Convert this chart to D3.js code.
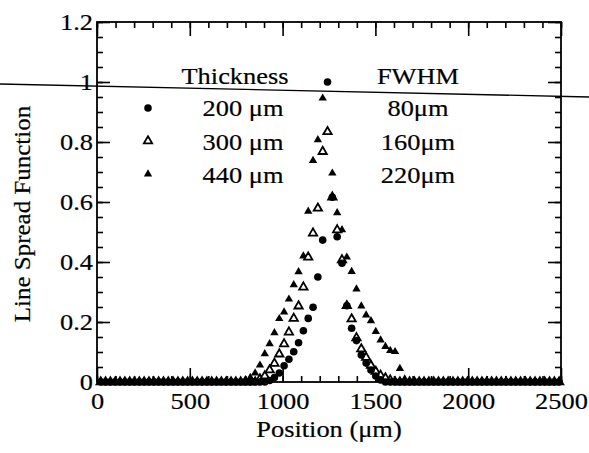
<!DOCTYPE html>
<html><head><meta charset="utf-8">
<script src="https://cdn.jsdelivr.net/npm/d3@7"></script>
<style>
body{margin:0;background:#fff}
svg{display:block}
text{font-family:"Liberation Serif","Times New Roman",serif;fill:#000}
</style>
</head><body>
<svg id="chart" width="589" height="453"></svg>
<script>
// sample positions (µm)
const position = [20,46,72,98,124,150,176,202,228,254,280,306,332,358,384,410,436,462,488,514,
540,566,592,618,644,670,696,722,748,774,800,826,852,878,904,930,956,982,1008,1034,
1060,1086,1112,1138,1164,1190,1216,1242,1268,1294,1320,1346,1372,1398,1424,1450,1476,1502,1528,1554,
1580,1606,1632,1658,1684,1710,1736,1762,1788,1814,1840,1866,1892,1918,1944,1970,1996,2022,2048,2074,
2100,2126,2152,2178,2204,2230,2256,2282,2308,2334,2360,2386,2412,2438,2464,2490];

// 200 µm thickness (filled circles)
const lsf200 = [0,0,0,0,0,0,0,0,0,0, 0,0,0,0,0,0,0,0,0,0, 0,0,0,0,0,0,0,0,0,0,
0,0,0,0,0,0.005,0.015,0.03,0.054,0.076, 0.101,0.131,0.171,0.212,0.249,0.35,0.473,1.0,0.616,0.484,
0.396,0.254,0.179,0.138,0.09,0.063,0.04,0.02,0.007,0, 0,0,0,0,0,0,0,0,0,0,
0,0,0,0,0,0,0,0,0,0, 0,0,0,0,0,0,0,0,0,0, 0,0,0,0,0,0];

// 300 µm thickness (open triangles)
const lsf300 = [0,0,0,0,0,0,0,0,0,0, 0,0,0,0,0,0,0,0,0,0, 0,0,0,0,0,0,0,0,0,0,
0,0,0,0.01,0.02,0.04,0.062,0.093,0.127,0.166, 0.212,0.253,0.316,0.416,0.496,0.579,0.768,0.834,0.616,0.507,
0.407,0.254,0.21,0.147,0.11,0.082,0.055,0.035,0.022,0.013, 0.006,0,0,0,0,0,0,0,0,0,
0,0,0,0,0,0,0,0,0,0, 0,0,0,0,0,0,0,0,0,0, 0,0,0,0,0,0];

// 440 µm thickness (filled triangles)
const lsf440 = [0,0,0,0,0,0,0,0,0,0, 0,0,0,0,0,0,0,0,0,0, 0,0,0,0,0,0,0,0,0,0,
0.007,0.015,0.03,0.056,0.094,0.127,0.164,0.211,0.233,0.276, 0.324,0.367,0.42,0.569,0.738,0.807,0.946,0.834,0.696,0.564,
0.507,0.416,0.368,0.31,0.253,0.223,0.204,0.168,0.14,0.118, 0.105,0.101,0.045,0.01,0,0,0,0,0,0,
0,0,0,0,0,0,0,0,0,0, 0,0,0,0,0,0,0,0,0,0, 0,0,0,0,0,0];

const xTicks = [0,500,1000,1500,2000,2500];
const yTicks = [0,0.2,0.4,0.6,0.8,1,1.2];
const legendThickness = ["200 μm","300 μm","440 μm"];
const legendFWHM = ["80μm","160μm","220μm"];

const W = 589, H = 453;
const m = {left:97, right:28, top:22, bottom:71};
const svg = d3.select("#chart");
const x = d3.scaleLinear().domain([0,2500]).range([m.left, W-m.right]);
const y = d3.scaleLinear().domain([0,1.2]).range([H-m.bottom, m.top]);
const fs = 24;
const font = '"Liberation Serif","Times New Roman",serif';

// scan artefact line across the figure
svg.append("line").attr("x1",0).attr("y1",84).attr("x2",W).attr("y2",97)
  .attr("stroke","#000").attr("stroke-width",1.3);

function styleAxis(g){
  g.select(".domain").remove();
  g.selectAll(".tick line").attr("stroke","#000").attr("stroke-width",1.6);
  g.selectAll("text").style("font-size",fs+"px").style("font-family",font).attr("fill","#000");
}
const xMinor = d3.range(0,2501,100);
const yMinor = d3.range(0,1.2001,0.05);
const yFmt = d => d===0?"0":(d===1?"1":d3.format(".1f")(d));

const gB = svg.append("g").attr("transform",`translate(0,${y(0)})`);
gB.append("g").call(d3.axisBottom(x).tickValues(xMinor).tickSize(-6).tickFormat("")).call(styleAxis);
gB.append("g").call(d3.axisBottom(x).tickValues(xTicks).tickSize(-14).tickFormat(d3.format("d"))).call(styleAxis);
const gT = svg.append("g").attr("transform",`translate(0,${y(1.2)})`);
gT.append("g").call(d3.axisTop(x).tickValues(xMinor).tickSize(-6).tickFormat("")).call(styleAxis);
gT.append("g").call(d3.axisTop(x).tickValues(xTicks).tickSize(-14).tickFormat("")).call(styleAxis);
const gL = svg.append("g").attr("transform",`translate(${x(0)},0)`);
gL.append("g").call(d3.axisLeft(y).tickValues(yMinor).tickSize(-6).tickFormat("")).call(styleAxis);
gL.append("g").call(d3.axisLeft(y).tickValues(yTicks).tickSize(-13).tickPadding(4).tickFormat(yFmt)).call(styleAxis);
const gR = svg.append("g").attr("transform",`translate(${x(2500)},0)`);
gR.append("g").call(d3.axisRight(y).tickValues(yMinor).tickSize(-6).tickFormat("")).call(styleAxis);
gR.append("g").call(d3.axisRight(y).tickValues(yTicks).tickSize(-13).tickFormat("")).call(styleAxis);
gB.selectAll("text").attr("dy","0.71em").attr("y",10);

// frame
svg.append("rect").attr("x",x(0)).attr("y",y(1.2)).attr("width",x(2500)-x(0)).attr("height",y(0)-y(1.2))
  .attr("fill","none").attr("stroke","#000").attr("stroke-width",1.8);

// data
const tri = d3.symbol().type(d3.symbolTriangle).size(30);
const plot = svg.append("g");
plot.selectAll("path.f").data(position.map((p,i)=>[p,lsf440[i]])).join("path")
  .attr("class","f").attr("d",tri).attr("transform",d=>`translate(${x(d[0])},${y(d[1])})`).attr("fill","#000");
plot.selectAll("path.o").data(position.map((p,i)=>[p,lsf300[i]])).join("path")
  .attr("class","o").attr("d",tri).attr("transform",d=>`translate(${x(d[0])},${y(d[1])})`)
  .attr("fill","#fff").attr("stroke","#000").attr("stroke-width",1.8);
plot.selectAll("circle.c").data(position.map((p,i)=>[p,lsf200[i]])).join("circle")
  .attr("class","c").attr("cx",d=>x(d[0])).attr("cy",d=>y(d[1])).attr("r",3.8).attr("fill","#000");

// legend
const lg = svg.append("g").style("font-size",fs+"px");
lg.append("text").attr("x",235).attr("y",84).attr("text-anchor","middle").text("Thickness");
lg.append("text").attr("x",418).attr("y",84).attr("text-anchor","middle").text("FWHM");
const rowY = [116,150,183];
const markY = [108,141,174];
legendThickness.forEach((t,i)=>lg.append("text").attr("x",243).attr("y",rowY[i]).attr("text-anchor","middle").text(t));
legendFWHM.forEach((t,i)=>lg.append("text").attr("x",418).attr("y",rowY[i]).attr("text-anchor","middle").text(t));
lg.append("circle").attr("cx",148).attr("cy",markY[0]).attr("r",3.8).attr("fill","#000");
lg.append("path").attr("d",tri).attr("transform",`translate(148,${markY[1]})`).attr("fill","#fff").attr("stroke","#000").attr("stroke-width",1.8);
lg.append("path").attr("d",tri).attr("transform",`translate(148,${markY[2]})`).attr("fill","#000");

// axis titles
svg.append("text").attr("class","xt").attr("x",(x(0)+x(2500))/2).attr("y",437).attr("text-anchor","middle")
  .style("font-size",fs+"px").text("Position (μm)");
svg.append("text").attr("class","yt").attr("transform",`translate(30,${(y(0)+y(1.2))/2+12}) rotate(-90)`).attr("text-anchor","middle")
  .style("font-size",fs+"px").text("Line Spread Function");

// scanned text is a little wider and heavier than the font
svg.selectAll("text").each(function(){
  const el = this, len = el.getComputedTextLength();
  const k = el.classList.contains("yt") ? 1.04 : 1.1;
  el.setAttribute("textLength", len*k);
  el.setAttribute("lengthAdjust","spacingAndGlyphs");
  el.setAttribute("stroke","#000"); el.setAttribute("stroke-width","0.2");
});
</script>
</body></html>
